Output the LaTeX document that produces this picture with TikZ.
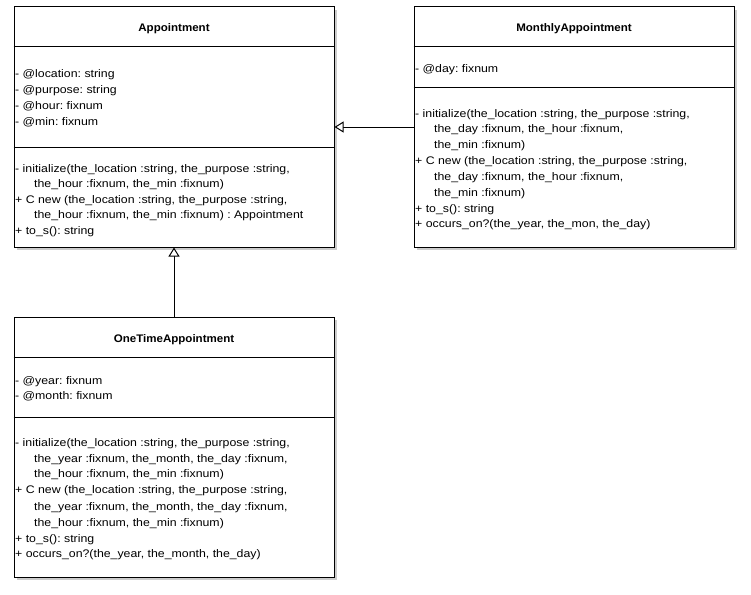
\documentclass[tikz,border=0pt]{standalone}
\usepackage{fontspec}
\setmainfont{Liberation Sans}[FakeStretch=1.12,BoldFeatures={FakeStretch=1.05}]
\usetikzlibrary{arrows.meta,shadows}
\frenchspacing
\begin{document}
\begin{tikzpicture}[x=1pt,y=-1pt,
	classbox/.style={draw=black,fill=white,line width=1pt,inner sep=0pt,minimum width=320pt,
		drop shadow={shadow xshift=3pt,shadow yshift=-3pt,fill=black!20,opacity=1}},
	title/.style={inner sep=0pt,anchor=base,font=\fontsize{11}{13}\selectfont\bfseries},
	member/.style={inner sep=0pt,anchor=base west,font=\fontsize{11}{13}\selectfont},
	inherit/.style={line width=1pt,-{Triangle[length=9pt,width=11pt,fill=white]}}]
	\useasboundingbox (0,0) rectangle (751,594);
	% class boxes
	\node[classbox,minimum height=240pt] (appt) at (174,127) {};
	\node[classbox,minimum height=240pt] (monthly) at (574,127) {};
	\node[classbox,minimum height=260pt] (onetime) at (174,447) {};
	\draw[line width=1pt] (appt.west |- 0,47) -- (appt.east |- 0,47);
	\draw[line width=1pt] (appt.west |- 0,147) -- (appt.east |- 0,147);
	\draw[line width=1pt] (monthly.west |- 0,47) -- (monthly.east |- 0,47);
	\draw[line width=1pt] (monthly.west |- 0,87) -- (monthly.east |- 0,87);
	\draw[line width=1pt] (onetime.west |- 0,357) -- (onetime.east |- 0,357);
	\draw[line width=1pt] (onetime.west |- 0,417) -- (onetime.east |- 0,417);
	% Appointment
	\node[title] (apptname) at (174,32) {Appointment};
	\node[member] (a1) at (15,77) {- @location: string};
	\node[member] (a2) at (15,93) {- @purpose: string};
	\node[member] (a3) at (15,109) {- @hour: fixnum};
	\node[member] (a4) at (15,125) {- @min: fixnum};
	\node[member] (am1) at (15,172) {- initialize(the\_location :string, the\_purpose :string,};
	\node[member] (am2) at (34,187) {the\_hour :fixnum, the\_min :fixnum)};
	\node[member] (am3) at (15,203) {+ C new (the\_location :string, the\_purpose :string,};
	\node[member] (am4) at (34,218) {the\_hour :fixnum, the\_min :fixnum) : Appointment};
	\node[member] (am5) at (15,234) {+ to\_s(): string};
	% MonthlyAppointment
	\node[title] (monthlyname) at (574,32) {MonthlyAppointment};
	\node[member] (m1) at (415,72) {- @day: fixnum};
	\node[member] (mm1) at (415,117) {- initialize(the\_location :string, the\_purpose :string,};
	\node[member] (mm2) at (434,132) {the\_day :fixnum, the\_hour :fixnum,};
	\node[member] (mm3) at (434,148) {the\_min :fixnum)};
	\node[member] (mm4) at (415,164) {+ C new (the\_location :string, the\_purpose :string,};
	\node[member] (mm5) at (434,180) {the\_day :fixnum, the\_hour :fixnum,};
	\node[member] (mm6) at (434,196) {the\_min :fixnum)};
	\node[member] (mm7) at (415,212) {+ to\_s(): string};
	\node[member] (mm8) at (415,227) {+ occurs\_on?(the\_year, the\_mon, the\_day)};
	% OneTimeAppointment
	\node[title] (onetimename) at (174,342) {OneTimeAppointment};
	\node[member] (o1) at (15,384) {- @year: fixnum};
	\node[member] (o2) at (15,399) {- @month: fixnum};
	\node[member] (om1) at (15,446) {- initialize(the\_location :string, the\_purpose :string,};
	\node[member] (om2) at (34,462) {the\_year :fixnum, the\_month, the\_day :fixnum,};
	\node[member] (om3) at (34,477) {the\_hour :fixnum, the\_min :fixnum)};
	\node[member] (om4) at (15,493) {+ C new (the\_location :string, the\_purpose :string,};
	\node[member] (om5) at (34,510) {the\_year :fixnum, the\_month, the\_day :fixnum,};
	\node[member] (om6) at (34,526) {the\_hour :fixnum, the\_min :fixnum)};
	\node[member] (om7) at (15,542) {+ to\_s(): string};
	\node[member] (om8) at (15,557) {+ occurs\_on?(the\_year, the\_month, the\_day)};
	% generalisation
	\draw[inherit] (monthly.west |- 0,127) -- (appt.east |- 0,127);
	\draw[inherit] (onetime.north) -- (appt.south);
\end{tikzpicture}
\end{document}
